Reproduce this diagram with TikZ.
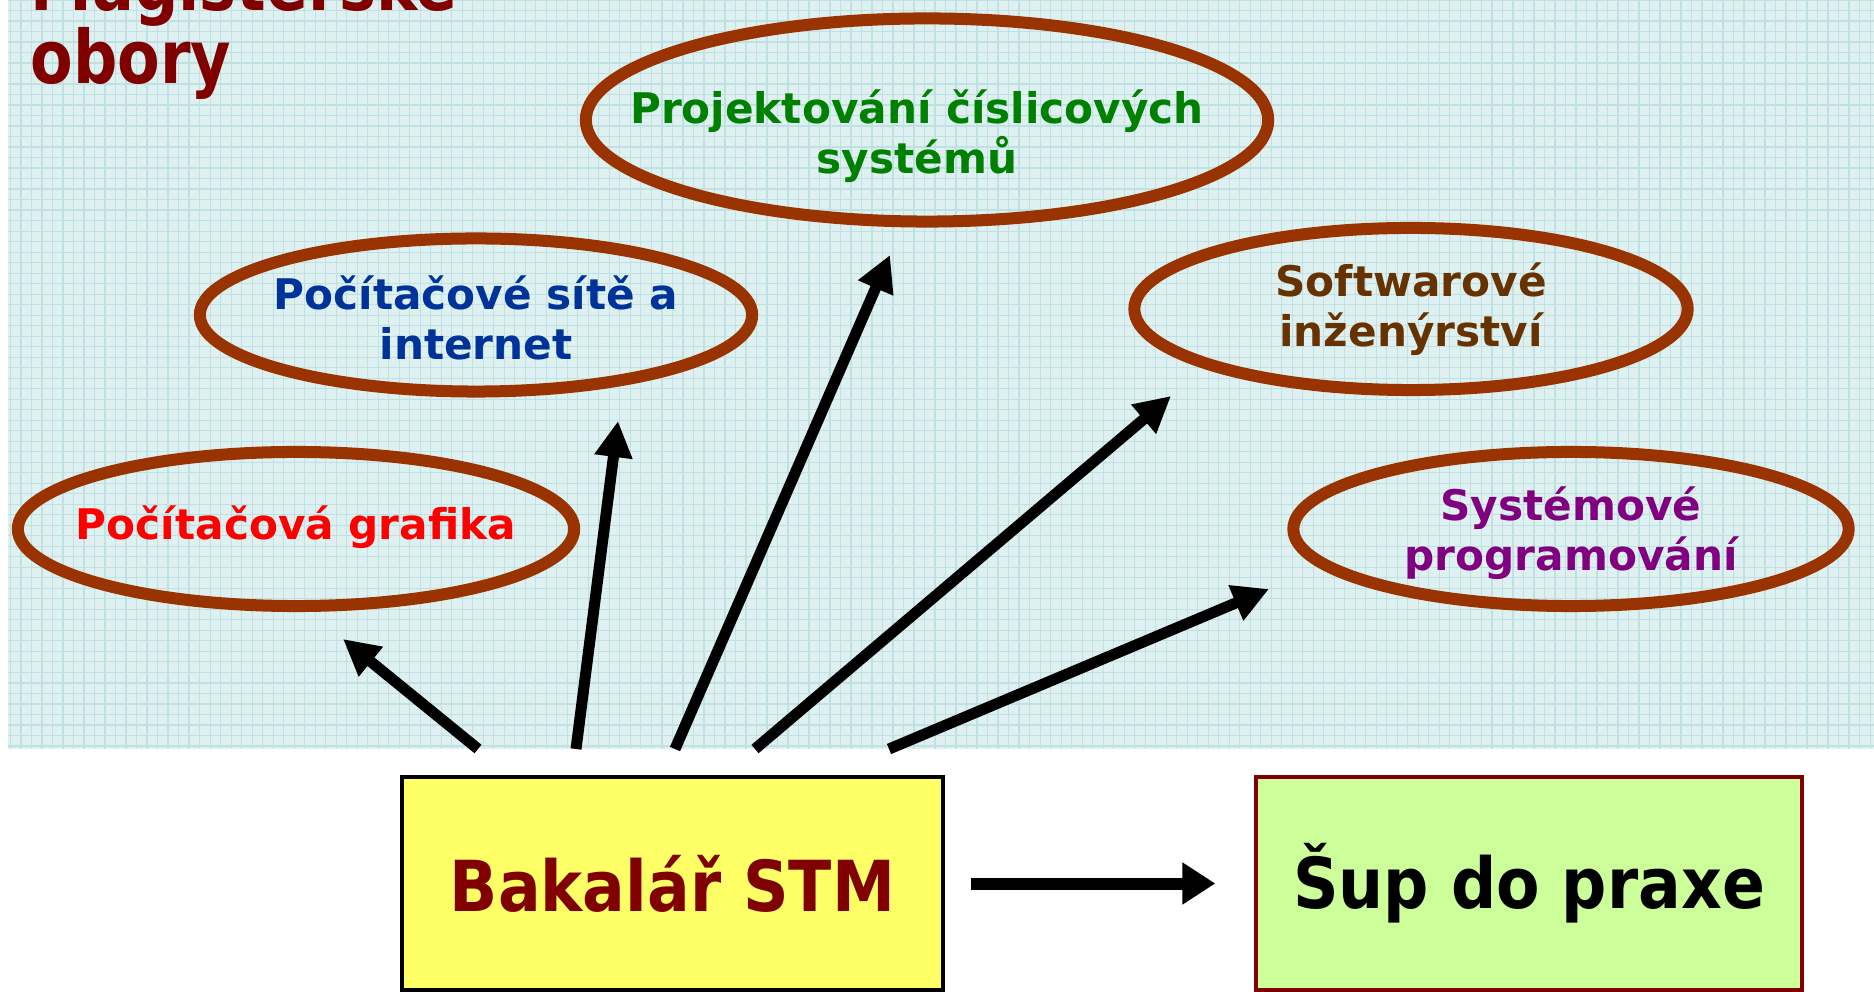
\documentclass[tikz,border=0pt]{standalone}
\usepackage{fontspec}
\setmainfont{DejaVu Sans}
\newfontfamily\boxfont[FakeStretch=0.9]{DejaVu Sans}
\newfontfamily\titlefont[FakeStretch=0.84]{DejaVu Sans}
\usetikzlibrary{shapes.geometric,arrows.meta}

\definecolor{bgcyan}{RGB}{223,240,241}
\definecolor{gridcyan}{RGB}{192,225,227}
\definecolor{ringbrown}{RGB}{153,51,0}
\definecolor{darkred}{RGB}{128,0,0}
\definecolor{bakyellow}{RGB}{255,255,102}
\definecolor{supgreen}{RGB}{204,255,153}
\definecolor{netblue}{RGB}{0,51,153}
\definecolor{swbrown}{RGB}{102,51,0}
\definecolor{sysviolet}{RGB}{128,0,128}
\definecolor{hwgreen}{RGB}{0,128,0}

\tikzset{
  obor/.style={ellipse, draw=ringbrown, line width=0.12cm, inner sep=0pt},
  obortext/.style={inner sep=0pt, align=center, font=\bfseries\fontsize{12}{14.2}\selectfont},
  stupen/.style={draw, line width=0.04cm, inner sep=0pt, minimum height=2.13cm,
    font=\boxfont\bfseries\fontsize{20}{24}\selectfont},
  sipka/.style={line width=0.11cm, -{Triangle[length=0.36cm,width=0.36cm]}}
}

\begin{document}
\begin{tikzpicture}[x=0.01cm, y=-0.01cm]
    \useasboundingbox (0,0) rectangle (1874,992);
    \fill[bgcyan] (8,0) rectangle (1874,749);
    \draw[gridcyan, line width=0.35pt, step=1.05mm] (8,749) grid (1874,0);

    \node[text=darkred, font=\titlefont\bfseries\fontsize{21}{21}\selectfont, align=left, anchor=base west, inner sep=0pt]
        (nadpis) at (30,84) {Magisterské\\obory};

    \node[obor, minimum width=5.56cm, minimum height=1.54cm] (grafika) at (296,529) {};
    \node[obor, minimum width=5.52cm, minimum height=1.53cm] (site) at (476,315) {};
    \node[obor, minimum width=6.82cm, minimum height=2.03cm] (projekt) at (927,120) {};
    \node[obor, minimum width=5.53cm, minimum height=1.62cm] (software) at (1411,309) {};
    \node[obor, minimum width=5.55cm, minimum height=1.54cm] (sysprog) at (1571,529) {};

    \node[obortext, text=red] (grafika-t) at (296,527) {Počítačová grafika};
    \node[obortext, text=netblue] (site-t) at (476,318) {Počítačové sítě a\\internet};
    \node[obortext, text=hwgreen] (projekt-t) at (917,136) {Projektování číslicových\\systémů};
    \node[obortext, text=swbrown] (software-t) at (1411,309) {Softwarové\\inženýrství};
    \node[obortext, text=sysviolet] (sysprog-t) at (1571,533) {Systémové\\programování};

    \node[stupen, fill=bakyellow, text=darkred, minimum width=5.41cm] (bak) at (672.5,883.5) {Bakalář STM};
    \node[stupen, draw=darkred, fill=supgreen, minimum width=5.45cm] (sup) at (1529,883.5) {Šup do praxe};

    \coordinate (z1) at (478,749);
    \coordinate (z2) at (576,749);
    \coordinate (z3) at (675,749);
    \coordinate (z4) at (755,749);
    \coordinate (z5) at (889,749);
    \coordinate (k1) at (343,639);
    \coordinate (k2) at (618,421);
    \coordinate (k3) at (890,255);
    \coordinate (k4) at (1171,396);
    \coordinate (k5) at (1269,589);

    \draw[sipka] (z1) -- (k1);
    \draw[sipka] (z2) -- (k2);
    \draw[sipka] (z3) -- (k3);
    \draw[sipka] (z4) -- (k4);
    \draw[sipka] (z5) -- (k5);
    \draw[line width=0.12cm, -{Triangle[length=0.33cm,width=0.4cm]}, shorten <=0.26cm, shorten >=0.39cm] (bak) -- (sup);
\end{tikzpicture}
\end{document}
